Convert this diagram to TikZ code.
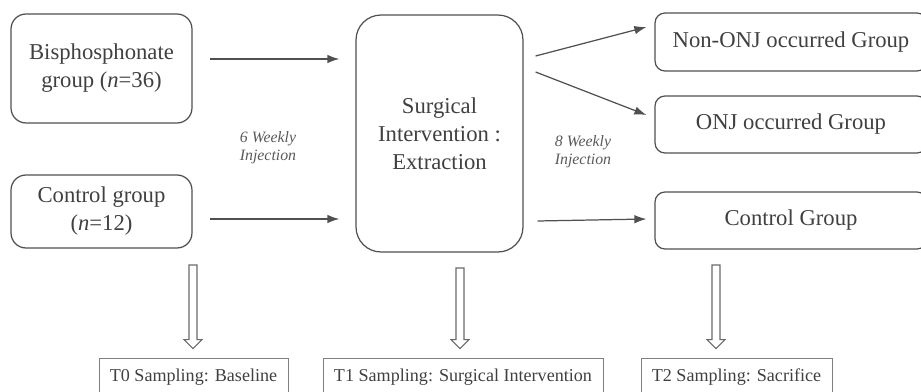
\documentclass[tikz,border=0pt]{standalone}
\usepackage{fontspec}
\setmainfont{Liberation Serif}
\usepackage{tikz}
\usetikzlibrary{arrows.meta, calc}
\definecolor{inkgray}{RGB}{64, 64, 64}
\definecolor{linegray}{RGB}{80, 80, 80}
\definecolor{notegray}{RGB}{90, 90, 90}

\begin{document}
\begin{tikzpicture}[x=0.02cm, y=-0.02cm,
  group/.style={draw=linegray, line width=0.7pt, rounded corners=0.3cm, align=center,
    text=inkgray, font=\fontsize{12.9}{15.9}\selectfont, inner sep=0pt},
  sample/.style={draw=gray, line width=0.5pt, text=inkgray, inner sep=0pt,
    font=\fontsize{10.3}{12}\selectfont, minimum height=0.76cm},
  flow/.style={-{Latex[length=2.4mm, width=1.7mm]}, draw=linegray, line width=0.7pt},
  hollow/.style={draw=linegray!85, line width=0.6pt, fill=white},
  note/.style={align=center, text=notegray, font=\fontsize{9}{10.3}\selectfont\itshape}]
\path[use as bounding box, clip] (0,0) rectangle (921,392);
% left column
\node[group, minimum width=3.62cm, minimum height=2.18cm] (bis) at (101.5,68.5) {Bisphosphonate\\group (\textit{n}=36)};
\node[group, minimum width=3.62cm, minimum height=1.46cm] (ctrl) at (101.5,211.5) {Control group\\(\textit{n}=12)};
% middle
\node[group, rounded corners=0.5cm, minimum width=3.34cm, minimum height=4.74cm] (surg) at (439.5,133.5) {Surgical\\Intervention :\\Extraction};
% right column
\node[group, rounded corners=0.2cm, minimum width=5.44cm, minimum height=1.16cm] (nonj) at (791,42) {Non-ONJ occurred Group};
\node[group, rounded corners=0.2cm, minimum width=5.44cm, minimum height=1.14cm] (onj) at (791,124.5) {ONJ occurred Group};
\node[group, rounded corners=0.2cm, minimum width=5.44cm, minimum height=1.14cm] (cgrp) at (791,220.5) {Control Group};
% sampling
\node[sample, minimum width=3.78cm] (t0) at (193.5,377) {T0 Sampling: Baseline};
\node[sample, minimum width=5.6cm] (t1) at (463,377) {T1 Sampling: Surgical Intervention};
\node[sample, minimum width=3.82cm] (t2) at (736.5,377) {T2 Sampling: Sacrifice};
\node[note] (inj6) at (268,148) {6 Weekly\\Injection};
\node[note] (inj8) at (583,152) {8 Weekly\\Injection};

\draw[flow] ([shift={(17,-9.5)}]bis.east) -- ([shift={(-16,-74.5)}]surg.west);
\draw[flow] ([shift={(17,7.5)}]ctrl.east) -- ([shift={(-16,85.5)}]surg.west);
\draw[flow] ([shift={(12,-77.5)}]surg.east) -- ([shift={(-8,-15)}]nonj.west);
\draw[flow] ([shift={(12,-61.5)}]surg.east) -- ([shift={(-8,-9.5)}]onj.west);
\draw[flow] ([shift={(14,87.5)}]surg.east) -- ([shift={(-8,-1.5)}]cgrp.west);

\coordinate (a0) at (193,265);
\coordinate (a1) at (460,268);
\coordinate (a2) at (716,265);
\foreach \s/\e in {a0/t0, a1/t1, a2/t2}
  \draw[hollow] ($(\s)+(-4,0)$) -- ($(\s |- \e.north)+(-4,-18)$) -- ++(-5,0)
    -- ($(\s |- \e.north)+(0,-9)$) -- ($(\s |- \e.north)+(9,-18)$) -- ++(-5,0)
    -- ($(\s)+(4,0)$) -- cycle;
\end{tikzpicture}
\end{document}
